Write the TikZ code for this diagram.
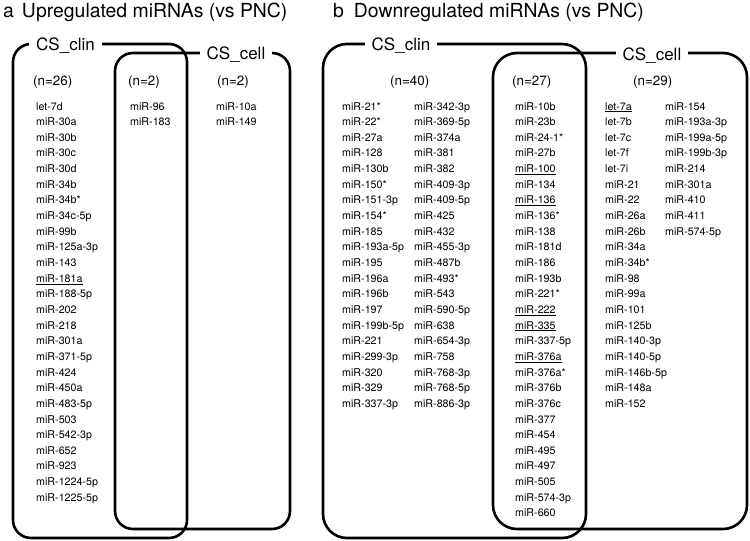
\documentclass[tikz,border=0pt]{standalone}
\usepackage{fontspec}
\setmainfont{TeX Gyre Heros}
\begin{document}
\begin{tikzpicture}[x=1pt,y=-1pt,
  box/.style={line width=2.6pt, rounded corners=#1},
  lbl/.style={fill=white, inner xsep=7pt, inner ysep=1pt, anchor=base, font=\fontsize{17}{20}\selectfont},
  ttl/.style={anchor=base west, inner sep=0pt, font=\fontsize{19.4}{23}\selectfont},
  cnt/.style={anchor=base west, inner sep=0pt, font=\fontsize{13.4}{16}\selectfont},
  item/.style={anchor=base west, inner sep=0pt, font=\fontsize{10.7}{13}\selectfont}]
\useasboundingbox (0,0) rectangle (750,541);
\def\rowsep{15.65}
% titles
\node[ttl] (ta) at (3,17.5) {a\hspace{8pt}Upregulated miRNAs (vs PNC)};
\node[ttl] (tb) at (333,17.5) {b\hspace{10pt}Downregulated miRNAs (vs PNC)};
% boxes panel a
\draw[box=18pt] (13,44) rectangle (187,538);
\draw[box=18pt] (115,53) rectangle (290,529);
% boxes panel b
\draw[box=24pt] (323,44) rectangle (586,538);
\draw[box=24pt] (493,53) rectangle (747,529);
% labels
\node[lbl] (aclin) at (65.5,50) {CS\_clin};
\node[lbl] (acell) at (236,59.5) {CS\_cell};
\node[lbl] (bclin) at (401,50) {CS\_clin};
\node[lbl] (bcell) at (652,60) {CS\_cell};
% counts
\node[cnt] (an1) at (33,85) {(n=26)};
\node[cnt] (an2) at (128,85) {(n=2)};
\node[cnt] (an3) at (217,85) {(n=2)};
\node[cnt] (bn1) at (390,85) {(n=40)};
\node[cnt] (bn2) at (512,85) {(n=27)};
\node[cnt] (bn3) at (633,85) {(n=29)};
% lists panel a
\foreach \t [count=\i from 0] in {let-7d, miR-30a, miR-30b, miR-30c, miR-30d, miR-34b, miR-34b*, miR-34c-5p, miR-99b, miR-125a-3p, miR-143, {\underline{miR-181a}}, miR-188-5p, miR-202, miR-218, miR-301a, miR-371-5p, miR-424, miR-450a, miR-483-5p, miR-503, miR-542-3p, miR-652, miR-923, miR-1224-5p, miR-1225-5p}
  \node[item] (al\i) at (36,110+\rowsep*\i) {\t};
\foreach \t [count=\i from 0] in {miR-96, miR-183}
  \node[item] (am\i) at (130,110+\rowsep*\i) {\t};
\foreach \t [count=\i from 0] in {miR-10a, miR-149}
  \node[item] (ar\i) at (216,110+\rowsep*\i) {\t};
% lists panel b
\foreach \t [count=\i from 0] in {miR-21*, miR-22*, miR-27a, miR-128, miR-130b, miR-150*, miR-151-3p, miR-154*, miR-185, miR-193a-5p, miR-195, miR-196a, miR-196b, miR-197, miR-199b-5p, miR-221, miR-299-3p, miR-320, miR-329, miR-337-3p}
  \node[item] (bla\i) at (342,110+\rowsep*\i) {\t};
\foreach \t [count=\i from 0] in {miR-342-3p, miR-369-5p, miR-374a, miR-381, miR-382, miR-409-3p, miR-409-5p, miR-425, miR-432, miR-455-3p, miR-487b, miR-493*, miR-543, miR-590-5p, miR-638, miR-654-3p, miR-758, miR-768-3p, miR-768-5p, miR-886-3p}
  \node[item] (blb\i) at (414,110+\rowsep*\i) {\t};
\foreach \t [count=\i from 0] in {miR-10b, miR-23b, miR-24-1*, miR-27b, {\underline{miR-100}}, miR-134, {\underline{miR-136}}, miR-136*, miR-138, miR-181d, miR-186, miR-193b, miR-221*, {\underline{miR-222}}, {\underline{miR-335}}, miR-337-5p, {\underline{miR-376a}}, miR-376a*, miR-376b, miR-376c, miR-377, miR-454, miR-495, miR-497, miR-505, miR-574-3p, miR-660}
  \node[item] (bm\i) at (515,110+\rowsep*\i) {\t};
\foreach \t [count=\i from 0] in {{\underline{let-7a}}, let-7b, let-7c, let-7f, let-7i, miR-21, miR-22, miR-26a, miR-26b, miR-34a, miR-34b*, miR-98, miR-99a, miR-101, miR-125b, miR-140-3p, miR-140-5p, miR-146b-5p, miR-148a, miR-152}
  \node[item] (bra\i) at (605,110+\rowsep*\i) {\t};
\foreach \t [count=\i from 0] in {miR-154, miR-193a-3p, miR-199a-5p, miR-199b-3p, miR-214, miR-301a, miR-410, miR-411, miR-574-5p}
  \node[item] (brb\i) at (665,110+\rowsep*\i) {\t};
\end{tikzpicture}
\end{document}
